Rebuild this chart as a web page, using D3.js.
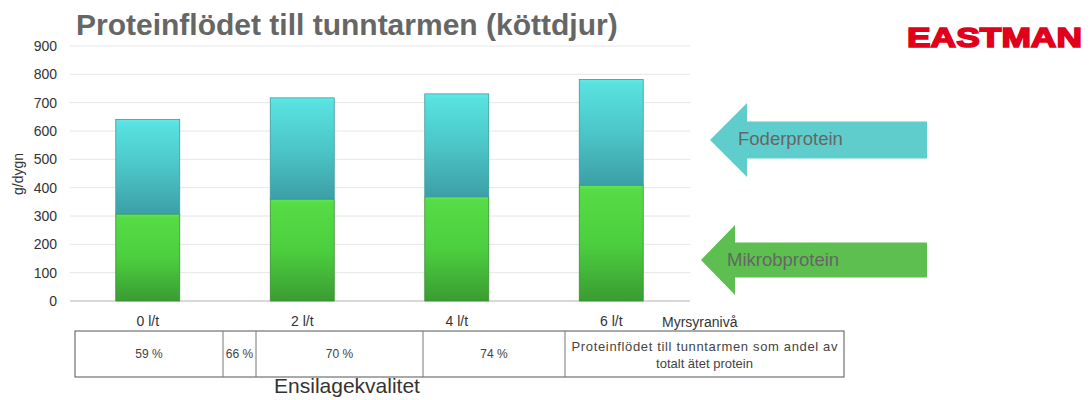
<!DOCTYPE html>
<html><head><meta charset="utf-8">
<script src="https://cdn.jsdelivr.net/npm/d3@7"></script>
<style>body{margin:0;background:#fff}svg{display:block;font-family:"Liberation Sans",Arial,sans-serif}</style>
</head><body>
<svg id="c" width="1091" height="400"></svg>
<script>
const categories = ["0 l/t", "2 l/t", "4 l/t", "6 l/t"];
const mikrobprotein = [307, 360, 368, 409];
const foderprotein = [334, 357, 363, 373];
const yTicks = [0, 100, 200, 300, 400, 500, 600, 700, 800, 900];
const seriesNames = ["Mikrobprotein", "Foderprotein"];
const tableCells = ["59 %", "66 %", "70 %", "74 %", "Proteinflödet till tunntarmen som andel av|totalt ätet protein"];
const tableEdges = [75, 223, 256, 423, 565, 844];

const svg = d3.select("#c");
const defs = svg.append("defs");
function grad(id, stops){
  const g = defs.append("linearGradient").attr("id", id).attr("x1",0).attr("y1",0).attr("x2",0).attr("y2",1);
  stops.forEach(s=>g.append("stop").attr("offset",s[0]).attr("stop-color",s[1]));
}
grad("gGreen", [[0,"#62e450"],[0.04,"#56dc46"],[0.5,"#4ccf3f"],[1,"#3a9c32"]]);
grad("gCyan", [[0,"#62eaea"],[0.04,"#58e2e0"],[0.5,"#4cc6c8"],[1,"#3c9fa6"]]);

const x = d3.scaleBand().domain(categories).range([70.5, 688.5]).paddingInner(0.586).paddingOuter(0.293);
const y = d3.scaleLinear().domain([0, 900]).range([301, 46]);

// title
svg.append("text").attr("x", 76).attr("y", 35).attr("font-size", 30).attr("font-weight", "bold")
  .attr("fill", "#666").text("Proteinflödet till tunntarmen (köttdjur)");

// logo
svg.append("text").attr("x", 907).attr("y", 47).attr("font-size", 28).attr("font-weight", "bold")
  .attr("fill", "#e0001b").attr("stroke", "#e0001b").attr("stroke-width", 1.6)
  .attr("textLength", 175).attr("lengthAdjust", "spacingAndGlyphs").text("EASTMAN");

// grid
svg.append("g").selectAll("line").data(yTicks.filter(d=>d>0)).join("line")
  .attr("x1", 70).attr("x2", 690).attr("y1", d=>y(d)).attr("y2", d=>y(d))
  .attr("stroke", "#e6e6e6").attr("stroke-width", 1);
svg.append("line").attr("x1", 70).attr("x2", 690).attr("y1", y(0)).attr("y2", y(0))
  .attr("stroke", "#d9d9d9").attr("stroke-width", 2);

// y axis labels
const yAxis = d3.axisLeft(y).tickValues(yTicks).tickSize(0).tickPadding(0);
const ga = svg.append("g").attr("transform", "translate(57,0)").call(yAxis);
ga.select(".domain").remove();
ga.selectAll("text").attr("font-size", 14).attr("fill", "#333").attr("font-family", "Liberation Sans, Arial, sans-serif");

svg.append("text").attr("transform", "translate(23,174) rotate(-90)").attr("text-anchor", "middle")
  .attr("font-size", 14).attr("fill", "#333").text("g/dygn");

// bars
const stacked = categories.map((c,i)=>({c, m: mikrobprotein[i], f: foderprotein[i]}));
const bars = svg.append("g");
stacked.forEach(d=>{
  const bx = x(d.c), bw = x.bandwidth();
  bars.append("rect").attr("x", bx).attr("width", bw).attr("y", y(d.m)).attr("height", y(0)-y(d.m))
    .attr("fill", "url(#gGreen)").attr("stroke", "#3a8f32").attr("stroke-width", 0.8);
  bars.append("rect").attr("x", bx).attr("width", bw).attr("y", y(d.m+d.f)).attr("height", y(d.m)-y(d.m+d.f))
    .attr("fill", "url(#gCyan)").attr("stroke", "#3b9aa0").attr("stroke-width", 0.8);
});

// x labels
const xAxis = d3.axisBottom(x).tickSize(0).tickPadding(0);
const gx = svg.append("g").attr("transform", "translate(0,316)").call(xAxis);
gx.select(".domain").remove();
gx.selectAll("text").attr("font-size", 14).attr("fill", "#333").attr("font-family", "Liberation Sans, Arial, sans-serif");
svg.append("text").attr("x", 662).attr("y", 327).attr("font-size", 14).attr("fill", "#333").text("Myrsyranivå");

// table
const tg = svg.append("g");
tg.append("rect").attr("x", tableEdges[0]).attr("y", 331).attr("width", tableEdges[5]-tableEdges[0]).attr("height", 46)
  .attr("fill", "none").attr("stroke", "#555").attr("stroke-width", 1);
tableEdges.slice(1,5).forEach(e=>tg.append("line").attr("x1", e).attr("x2", e).attr("y1", 331).attr("y2", 377)
  .attr("stroke", "#777").attr("stroke-width", 1));
tableCells.forEach((t,i)=>{
  const cx = (tableEdges[i]+tableEdges[i+1])/2;
  const lines = t.split("|");
  const y0 = lines.length === 1 ? 358 : 351;
  lines.forEach((l,j)=>{
    const tx = tg.append("text").attr("x", cx).attr("y", y0 + j*17).attr("text-anchor","middle")
      .attr("font-size", i<4 ? 12 : 13).attr("fill", "#444").text(l);
    if (i === 4 && j === 0) tx.attr("textLength", 266);
  });
});
svg.append("text").attr("x", 347).attr("y", 393).attr("text-anchor", "middle").attr("font-size", 21)
  .attr("fill", "#333").text("Ensilagekvalitet");

// arrows (legend)
function arrow(tipX, tipY, headBackX, endX, shaftHalf, headHalf, color, label, labelX, labelY){
  const p = [[tipX, tipY],[headBackX, tipY-headHalf],[headBackX, tipY-shaftHalf],[endX, tipY-shaftHalf],
             [endX, tipY+shaftHalf],[headBackX, tipY+shaftHalf],[headBackX, tipY+headHalf]];
  svg.append("path").attr("d", d3.line()(p)+"Z").attr("fill", color);
  svg.append("text").attr("x", labelX).attr("y", labelY).attr("font-size", 18.5).attr("fill", "#666").text(label);
}
arrow(710, 140, 747, 927, 18.5, 37, "#5fcdcc", seriesNames[1], 738, 145);
arrow(701, 260, 735, 927, 17.5, 35, "#5cbf50", seriesNames[0], 727, 266);
</script>
</body></html>
